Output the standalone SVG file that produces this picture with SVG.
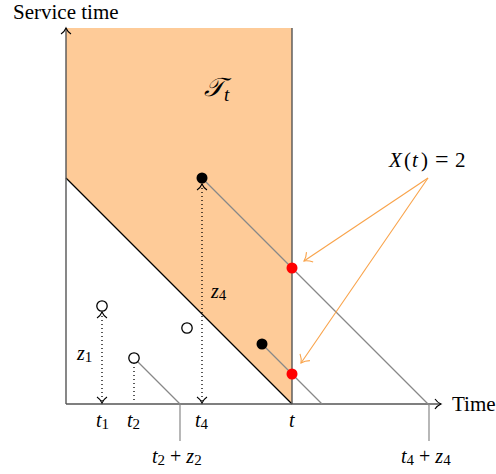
<svg xmlns="http://www.w3.org/2000/svg" width="496" height="474" viewBox="0 0 496 474" font-family="'Liberation Serif','Times New Roman',serif">
<style>
text{font-family:"Liberation Serif","Times New Roman",serif;font-size:20px;fill:#000}
.m{font-style:italic}
.s{font-size:15px;font-style:normal}
.ax{stroke:#555;stroke-width:1.4;fill:none}
.gl{stroke:#888;stroke-width:1.2;fill:none}
.dot{stroke:#000;stroke-width:1.3;stroke-dasharray:1 3;fill:none}
.oa{stroke:#f9a34a;stroke-width:1.1;fill:none}
.hc{fill:#fff;stroke:#000;stroke-width:1.3}
</style>
<defs>
<marker id="ak" viewBox="-7 -6 9 12" markerWidth="9" markerHeight="12" refX="0" refY="0" orient="auto-start-reverse" markerUnits="userSpaceOnUse">
<path d="M-6,-5 C-4,-2 -1.5,-0.6 0,0 C-1.5,0.6 -4,2 -6,5" fill="none" stroke="#000" stroke-width="1.1"/>
</marker>
<marker id="ao" viewBox="-8 -7 10 14" markerWidth="10" markerHeight="14" refX="0" refY="0" orient="auto" markerUnits="userSpaceOnUse">
<path d="M-7,-6 C-4.5,-2.5 -1.5,-0.7 0,0 C-1.5,0.7 -4.5,2.5 -7,6" fill="none" stroke="#f9a34a" stroke-width="1.1"/>
</marker>
</defs>

<g id="region">
<polygon points="66,28 292,28 292,404 66,178" fill="#fecb98"/>
<line x1="66" y1="178" x2="292" y2="404" stroke="#000" stroke-width="1.3"/>
<line x1="292" y1="28" x2="292" y2="404" class="ax"/>
<text x="204" y="96" class="m" style="font-size:26px;font-family:'DejaVu Serif','Liberation Serif',serif">𝒯<tspan dy="5" style="font-family:'Liberation Serif',serif;font-style:italic;font-size:19px">t</tspan></text>
</g>

<g id="axes">
<line x1="66" y1="404" x2="66" y2="28" class="ax" marker-end="url(#ak)"/>
<line x1="66" y1="404" x2="441" y2="404" class="ax" marker-end="url(#ak)"/>
<text x="13" y="19" style="font-size:21px">Service time</text>
<text x="452" y="411" style="font-size:21px">Time</text>
</g>

<g id="connectors">
<line x1="202" y1="178" x2="429" y2="405" class="gl"/>
<line x1="262" y1="344" x2="322" y2="404" class="gl"/>
<line x1="134" y1="358" x2="180" y2="404" class="gl"/>
<line x1="180" y1="404" x2="180" y2="441" class="gl"/>
<line x1="429" y1="404" x2="429" y2="441" class="gl"/>
<line x1="202" y1="184" x2="202" y2="403" class="dot" marker-start="url(#ak)" marker-end="url(#ak)"/>
<line x1="102" y1="312" x2="102" y2="403" class="dot" marker-start="url(#ak)" marker-end="url(#ak)"/>
<line x1="134" y1="363" x2="134" y2="403" class="dot"/>
<line x1="428" y1="178" x2="304" y2="261" class="oa" marker-end="url(#ao)"/>
<line x1="428" y1="178" x2="301" y2="363" class="oa" marker-end="url(#ao)"/>
</g>

<g id="job1"><circle cx="102" cy="306" r="5.2" class="hc"/><text x="77" y="360" class="m">z<tspan class="s" dy="2">1</tspan></text></g>
<g id="job2"><circle cx="134" cy="358" r="5.2" class="hc"/></g>
<g id="job3"><circle cx="187" cy="328" r="5.2" class="hc"/></g>
<g id="job4"><circle cx="202" cy="178" r="5.5" fill="#000"/><text x="211" y="298" class="m">z<tspan class="s" dy="2">4</tspan></text></g>
<g id="job5"><circle cx="262" cy="344" r="5.5" fill="#000"/></g>
<g id="red1"><circle cx="292" cy="268" r="5.5" fill="#f00"/></g>
<g id="red2"><circle cx="292" cy="374" r="5.5" fill="#f00"/></g>

<g id="labels">
<text x="96" y="427" class="m">t<tspan class="s" dy="2">1</tspan></text>
<text x="127" y="427" class="m">t<tspan class="s" dy="2">2</tspan></text>
<text x="195" y="427" class="m">t<tspan class="s" dy="2">4</tspan></text>
<text x="289" y="427" class="m">t</text>
<text x="152" y="463" class="m">t<tspan class="s" dy="2">2</tspan><tspan dy="-2" style="font-style:normal"> + </tspan>z<tspan class="s" dy="2">2</tspan></text>
<text x="401" y="463" class="m">t<tspan class="s" dy="2">4</tspan><tspan dy="-2" style="font-style:normal"> + </tspan>z<tspan class="s" dy="2">4</tspan></text>
<text y="167" style="font-size:21px"><tspan x="389" class="m" style="font-size:21px">X</tspan><tspan x="404">(</tspan><tspan x="412" class="m" style="font-size:21px">t</tspan><tspan x="421">)</tspan><tspan x="435" style="font-size:24px">=</tspan><tspan x="455">2</tspan></text>
</g>
</svg>
